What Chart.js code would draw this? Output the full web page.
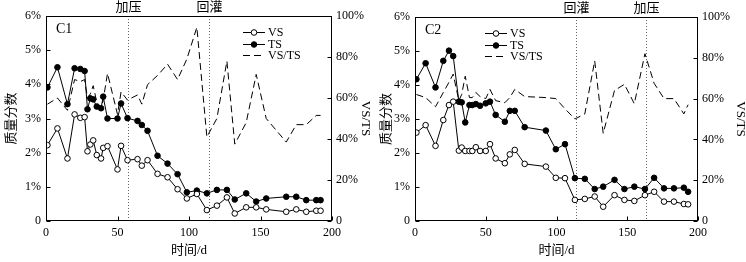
<!DOCTYPE html>
<html lang="zh">
<head>
<meta charset="UTF-8">
<title>C1 / C2 质量分数</title>
<script src="https://cdn.jsdelivr.net/npm/chart.js@4.4.0/dist/chart.umd.min.js"></script>
<style>
  body { margin: 0; background: #fff; }
  #wrap { position: relative; width: 746px; height: 262px; }
  canvas { position: absolute; top: 0; }
</style>
</head>
<body>
<div id="wrap">
  <canvas id="c1" width="373" height="262" style="left:0"></canvas>
  <canvas id="c2" width="373" height="262" style="left:373px"></canvas>
</div>
<script>
// ---- data ----
// C1
const days1 = [1, 8, 15, 20, 24, 27, 29, 31, 33, 35.5, 38.5, 40, 43, 50, 52.5, 57, 64, 67, 71, 78, 85, 92, 98.5,
               105.5, 112.5, 119.5, 126.5, 132, 140, 147, 154, 168, 175, 182, 189, 192];
const ts1 = [3.91, 4.50, 3.42, 4.47, 4.45, 4.39, 3.27, 3.59, 3.56, 3.35, 3.30, 3.64, 3.00, 3.00, 3.44, 3.01, 2.93, 2.81, 2.64, 1.91, 1.68, 1.37, 0.84,
             0.89, 0.81, 0.91, 0.91, 0.63, 0.81, 0.57, 0.66, 0.71, 0.71, 0.61, 0.61, 0.61];
const vs1 = [2.22, 2.71, 1.83, 3.12, 3.02, 3.04, 2.04, 2.24, 2.36, 1.93, 1.83, 2.14, 2.19, 1.51, 2.20, 1.78, 1.81, 1.62, 1.78, 1.38, 1.28, 0.93, 0.66,
             0.79, 0.32, 0.45, 0.69, 0.22, 0.40, 0.40, 0.34, 0.27, 0.34, 0.27, 0.30, 0.30];
const ratio1 = [57, 60, 54, 69, 68, 69, 60, 62, 66, 58, 55, 59, 72, 52, 63, 59, 61.5, 57, 66.5, 71, 76.5, 69, 79,
                94.5, 41, 50, 78, 37.5, 48, 71.5, 50, 38.5, 47, 47, 51.5, 51.5];
const eventDays1 = [57, 114];
const eventNames1 = ['加压', '回灌'];

// C2
const days2 = [1, 7.5, 14.5, 20, 24, 27, 31, 33, 35.5, 38.5, 40.5, 43, 46, 50, 53, 57, 63.5, 67, 70.5, 77.5, 92.5, 99.5,
               106, 113, 120, 127, 133, 141, 148, 155, 162.5, 169, 176, 183, 190, 193];
const ts2 = [4.17, 4.64, 3.93, 4.71, 5.01, 4.85, 3.51, 3.49, 2.90, 3.41, 3.41, 3.44, 3.39, 3.46, 3.51, 3.12, 2.92, 3.24, 3.24, 2.76, 2.66, 2.11,
             2.26, 1.26, 1.24, 0.94, 1.01, 1.21, 0.94, 1.01, 0.94, 1.27, 0.96, 0.96, 0.98, 0.86];
const vs2 = [2.60, 2.82, 2.21, 2.97, 3.41, 3.51, 2.07, 2.16, 2.06, 2.06, 2.06, 2.17, 2.06, 2.06, 2.26, 1.84, 1.70, 1.96, 2.09, 1.68, 1.60, 1.27,
             1.26, 0.62, 0.65, 0.72, 0.42, 0.76, 0.62, 0.59, 0.76, 0.86, 0.57, 0.57, 0.50, 0.49];
const ratio2 = [62, 60.5, 56, 63, 68, 72, 59, 62, 71, 60.5, 60.5, 63, 61, 60, 64.5, 59, 58, 60.5, 64.5, 61, 60.5, 60,
                55, 50, 52.5, 78.5, 43, 64, 67, 57.5, 82, 67.5, 60, 60, 52.5, 57];
const eventDays2 = [114, 163.5];
const eventNames2 = ['回灌', '加压'];

const seriesNames = ['VS', 'TS', 'VS/TS'];

// ---- drawing ----
const SERIF = '"Liberation Serif", "Times New Roman", serif';
const CJK = '"Liberation Serif", "Noto Sans CJK SC", serif';

function pts(xs, ys) { return xs.map((x, i) => ({ x: x, y: ys[i] })); }
function pct(v) { return v === 0 ? '0' : v + '%'; }

// frame, inward ticks, event lines, panel tag and legend
const deco = {
  id: 'deco',
  beforeDatasetsDraw(chart, args, o) {
    const ctx = chart.ctx, a = chart.chartArea, sx = chart.scales.x;
    ctx.save();
    ctx.strokeStyle = '#666';
    ctx.lineWidth = 1;
    ctx.setLineDash([1, 2]);
    o.days.forEach((d, i) => {
      const x = Math.round(sx.getPixelForValue(d)) + 0.5;
      ctx.beginPath();
      ctx.moveTo(x, a.top);
      ctx.lineTo(x, a.bottom);
      ctx.stroke();
      ctx.fillStyle = '#000';
      ctx.font = '13px ' + CJK;
      ctx.textAlign = 'center';
      ctx.textBaseline = 'middle';
      ctx.fillText(o.names[i], x, a.top - 8);
    });
    ctx.restore();
  },
  afterDraw(chart, args, o) {
    const ctx = chart.ctx, a = chart.chartArea;
    const L = Math.round(a.left) + 0.5, R = Math.round(a.right) - 0.5;
    const T = Math.round(a.top) + 0.5, B = Math.round(a.bottom) - 0.5;
    ctx.save();
    ctx.strokeStyle = '#000';
    ctx.lineWidth = 1;
    ctx.strokeRect(L, T, R - L, B - T);
    ctx.beginPath();
    chart.scales.x.ticks.forEach(t => {
      const x = Math.round(chart.scales.x.getPixelForValue(t.value)) + 0.5;
      ctx.moveTo(x, B); ctx.lineTo(x, B - 4);
    });
    chart.scales.y.ticks.forEach(t => {
      const y = Math.round(chart.scales.y.getPixelForValue(t.value)) + 0.5;
      ctx.moveTo(L, y); ctx.lineTo(L + 4, y);
    });
    chart.scales.y1.ticks.forEach(t => {
      const y = Math.round(chart.scales.y1.getPixelForValue(t.value)) + 0.5;
      ctx.moveTo(R, y); ctx.lineTo(R - 4, y);
    });
    ctx.stroke();

    // panel tag
    ctx.fillStyle = '#000';
    ctx.font = '14px ' + SERIF;
    ctx.textAlign = 'left';
    ctx.textBaseline = 'middle';
    ctx.fillText(o.tag, a.left + 10, a.top + 13);

    // legend
    ctx.font = '12px ' + SERIF;
    chart.data.datasets.forEach((ds, i) => {
      const y = Math.round(o.ly + i * 11.5) + 0.5;
      ctx.strokeStyle = '#000';
      ctx.setLineDash(ds.borderDash || []);
      ctx.beginPath();
      ctx.moveTo(o.lx, y);
      ctx.lineTo(o.lx + 22, y);
      ctx.stroke();
      ctx.setLineDash([]);
      if (ds.pointRadius > 0) {
        ctx.beginPath();
        ctx.arc(o.lx + 11, y, ds.pointRadius, 0, Math.PI * 2);
        ctx.fillStyle = ds.pointBackgroundColor;
        ctx.fill();
        ctx.stroke();
      }
      ctx.fillStyle = '#000';
      ctx.fillText(ds.label, o.lx + 25, y);
    });
    ctx.restore();
  }
};

function makeChart(id, days, vs, ts, ratio, evDays, evNames, g) {
  return new Chart(document.getElementById(id), {
    type: 'line',
    data: {
      datasets: [
        { label: seriesNames[0], data: pts(days, vs), yAxisID: 'y', borderColor: '#000', borderWidth: 1,
          pointRadius: 2.8, pointBackgroundColor: '#fff', pointBorderColor: '#000', pointBorderWidth: 1, tension: 0 },
        { label: seriesNames[1], data: pts(days, ts), yAxisID: 'y', borderColor: '#000', borderWidth: 1,
          pointRadius: 2.8, pointBackgroundColor: '#000', pointBorderColor: '#000', pointBorderWidth: 1, tension: 0 },
        { label: seriesNames[2], data: pts(days, ratio), yAxisID: 'y1', borderColor: '#000', borderWidth: 1,
          borderDash: [7, 4], pointRadius: 0, tension: 0 }
      ]
    },
    options: {
      responsive: false,
      animation: false,
      devicePixelRatio: 1,
      layout: { padding: { left: 0, right: 0, top: g.top, bottom: 0 } },
      plugins: {
        legend: { display: false },
        tooltip: { enabled: false },
        deco: { days: evDays, names: evNames, tag: g.tag, lx: g.lx, ly: g.ly }
      },
      scales: {
        x: {
          type: 'linear', min: 0, max: 200, position: 'bottom',
          ticks: { stepSize: 50, padding: 5, maxRotation: 0, color: '#000', font: { family: SERIF, size: 12 } },
          grid: { display: false, drawTicks: false },
          border: { display: false },
          title: { display: true, text: '时间/d', color: '#000', font: { family: CJK, size: 13 }, padding: { top: 4, bottom: 4 } },
          afterFit: s => { s.height = 41; }
        },
        y: {
          position: 'left', min: 0, max: 6,
          ticks: { stepSize: 1, padding: 5, color: '#000', font: { family: SERIF, size: 12 }, callback: pct },
          grid: { display: false, drawTicks: false },
          border: { display: false },
          title: { display: true, text: '质量分数', color: '#000', font: { family: CJK, size: 13 }, padding: { top: g.ltp, bottom: 0 } },
          afterFit: s => { s.width = g.yw; }
        },
        y1: {
          position: 'right', min: 0, max: 100,
          ticks: { stepSize: 20, padding: 4, color: '#000', font: { family: SERIF, size: 12 }, callback: pct },
          grid: { display: false, drawTicks: false },
          border: { display: false },
          title: { display: true, text: 'VS/TS', color: '#000', font: { family: SERIF, size: 13 }, padding: { top: g.rtp, bottom: 0 } },
          afterFit: s => { s.width = g.y1w; }
        }
      }
    },
    plugins: [deco]
  });
}

makeChart('c1', days1, vs1, ts1, ratio1, eventDays1, eventNames1,
  { top: 16, yw: 46, y1w: 41, ltp: 4, rtp: 0, tag: 'C1', lx: 243, ly: 32 });
makeChart('c2', days2, vs2, ts2, ratio2, eventDays2, eventNames2,
  { top: 17, yw: 42, y1w: 48, ltp: 6, rtp: -2, tag: 'C2', lx: 112, ly: 33 });
</script>
</body>
</html>
